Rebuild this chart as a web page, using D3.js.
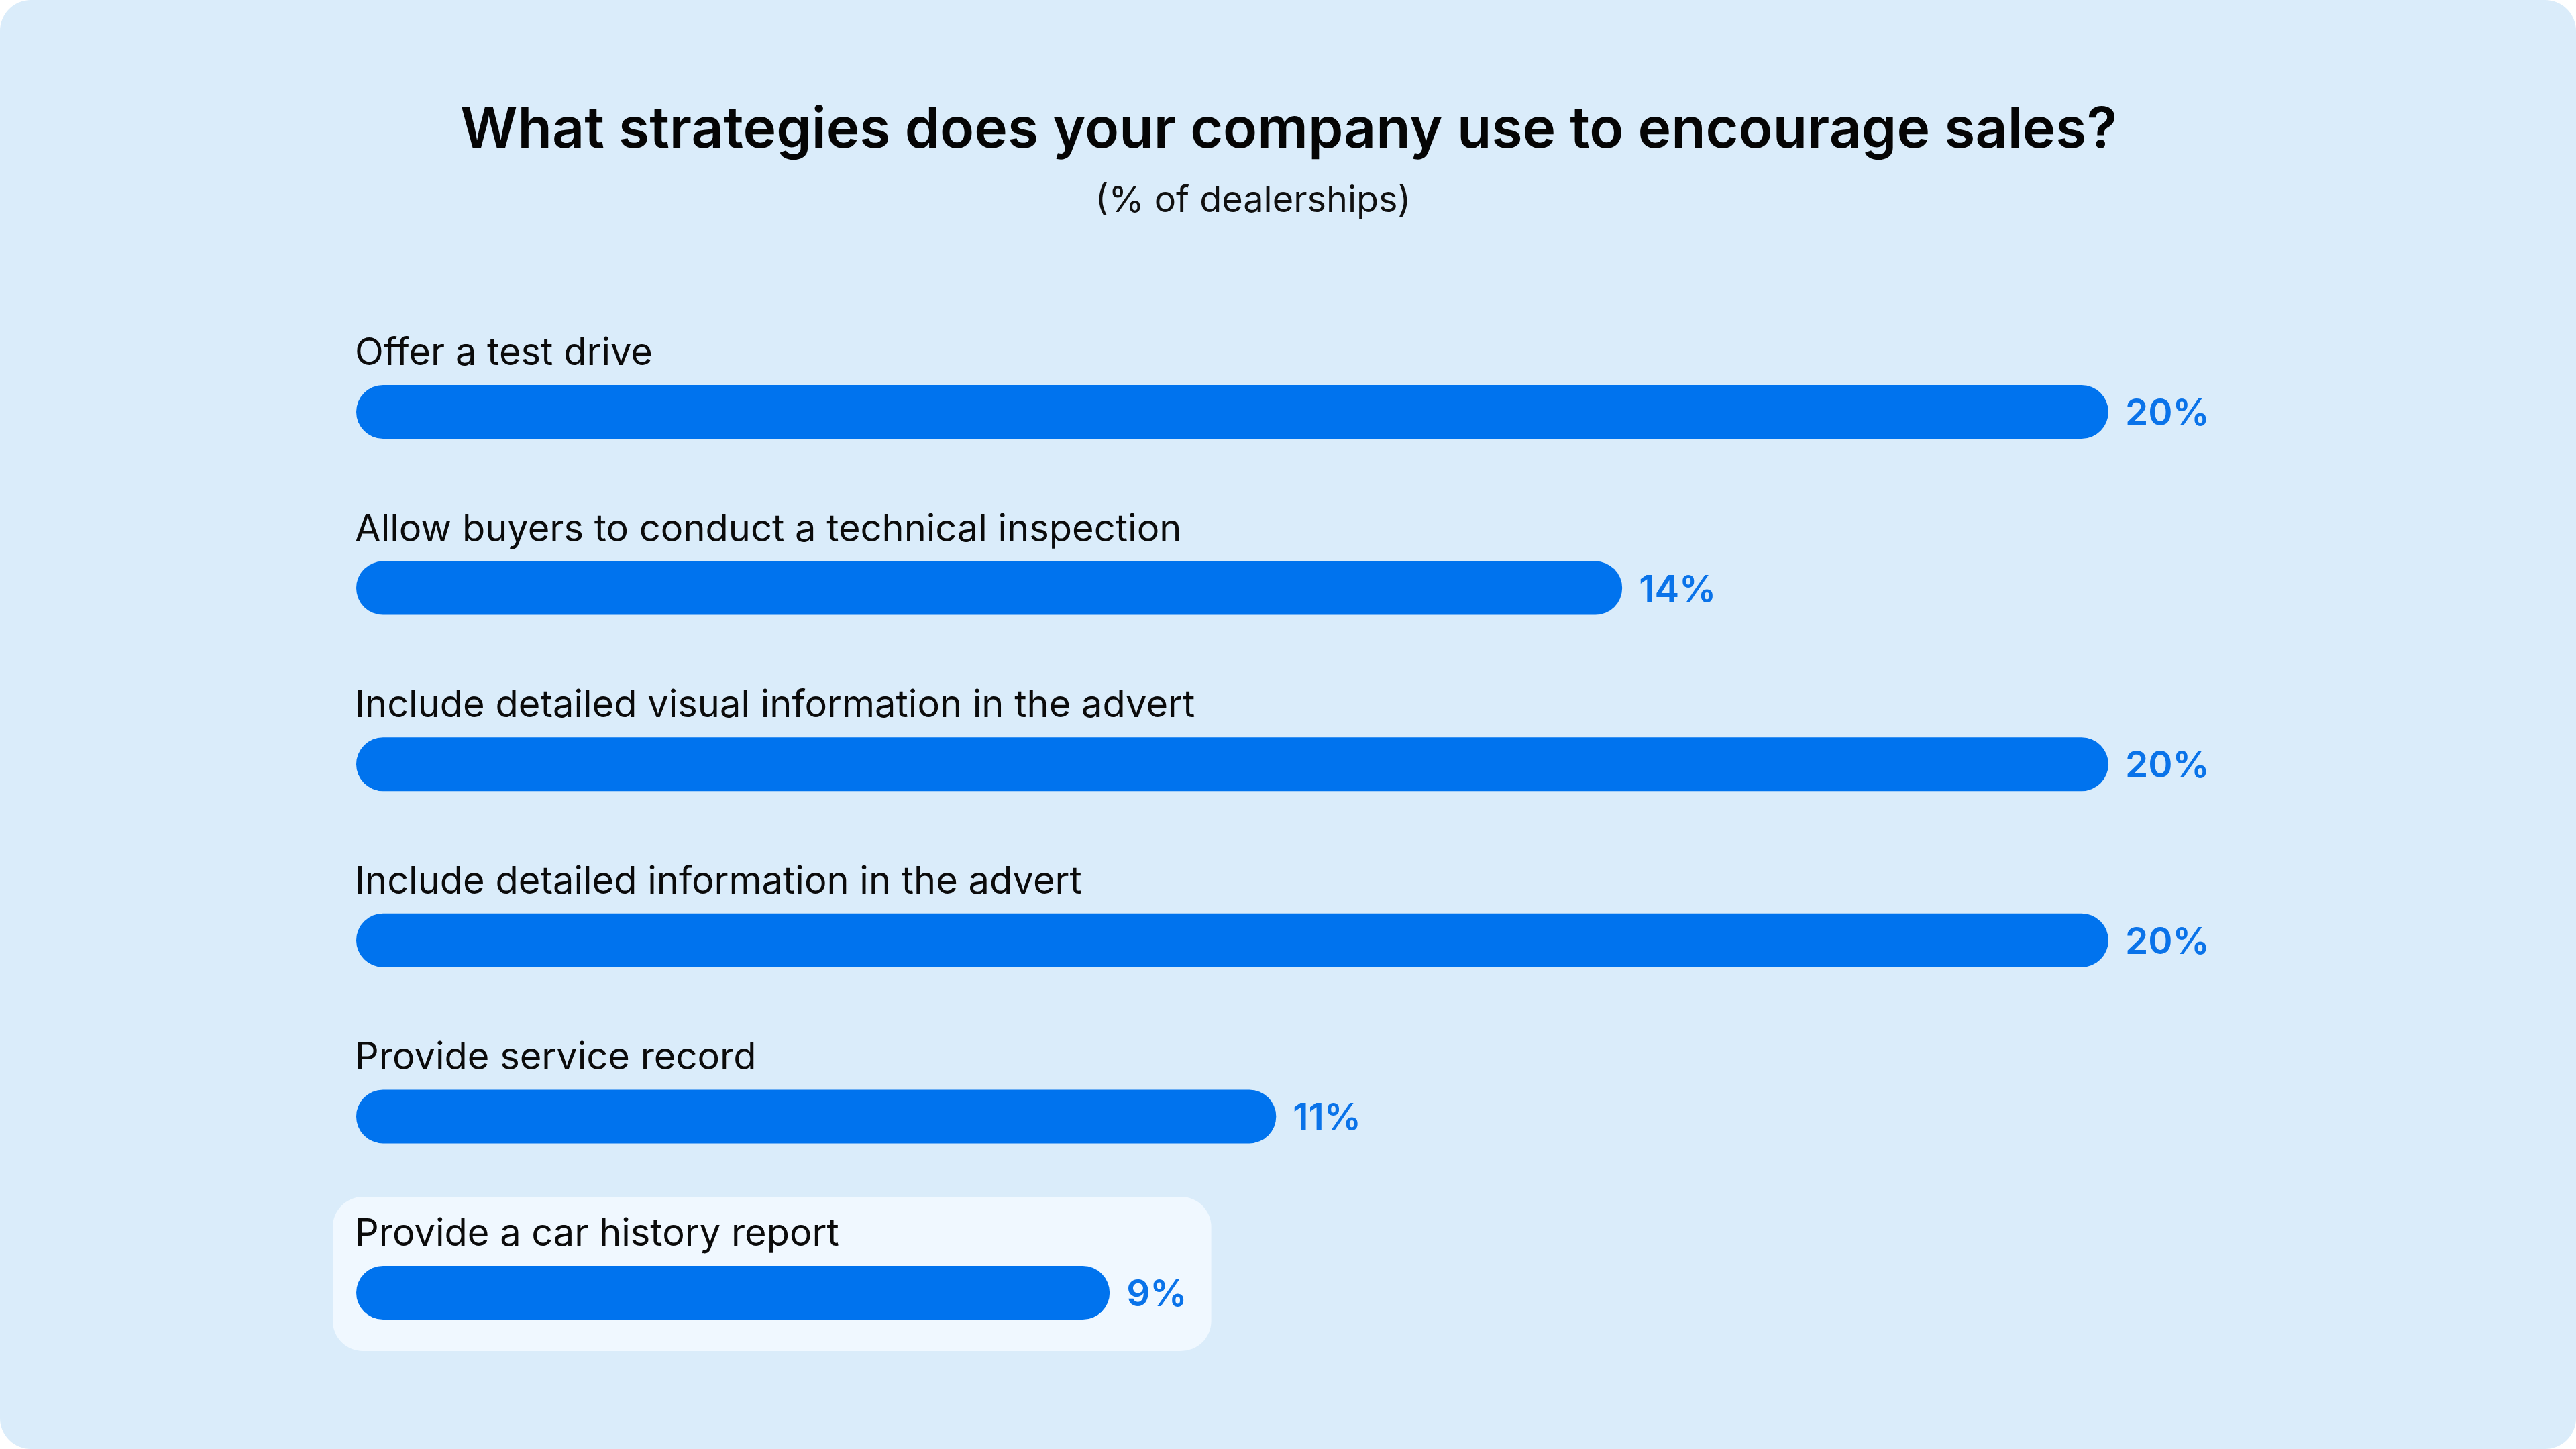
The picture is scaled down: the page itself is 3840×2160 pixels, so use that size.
<!DOCTYPE html>
<html>
<head>
<meta charset="utf-8">
<script src="https://cdn.jsdelivr.net/npm/d3@7/dist/d3.min.js"></script>
<style>
  html, body { margin: 0; padding: 0; background: #ffffff; }
  svg { display: block; }
  text { font-family: Inter, "Noto Sans", "DejaVu Sans", sans-serif; }
</style>
</head>
<body>
<svg id="chart" width="3840" height="2160"></svg>
<script>
// ---- data ----
const titleText = "What strategies does your company use to encourage sales?";
const subtitleText = "(% of dealerships)";
const categories = [
  "Offer a test drive",
  "Allow buyers to conduct a technical inspection",
  "Include detailed visual information in the advert",
  "Include detailed information in the advert",
  "Provide service record",
  "Provide a car history report"
];
const values = [20, 14.45, 20, 20, 10.5, 8.6];
const highlighted = ["Provide a car history report"];

// ---- layout ----
const W = 3840, H = 2160;
const barColor = "#0073EE";
const labelBlue = "#0A73E9";
const svg = d3.select("#chart");

svg.append("rect")
  .attr("x", 0).attr("y", 0).attr("width", W).attr("height", H)
  .attr("rx", 46).attr("ry", 46)
  .attr("fill", "#DAECFA");

svg.append("text")
  .attr("x", 1921).attr("y", 220)
  .attr("text-anchor", "middle")
  .attr("font-size", 84).attr("font-weight", 620)
  .attr("fill", "#050505")
  .text(titleText);

svg.append("text")
  .attr("x", 1868).attr("y", 316)
  .attr("text-anchor", "middle")
  .attr("font-size", 54).attr("font-weight", 400)
  .attr("fill", "#111111")
  .text(subtitleText);

const x = d3.scaleLinear().domain([0, 20]).range([531, 3143]);
const y = d3.scaleBand().domain(categories).range([482.7, 2058.3]).padding(0);
const barH = 80;
const fmt = v => Math.round(v) + "%";

const rows = svg.append("g").selectAll("g.row")
  .data(categories.map((c, i) => ({ cat: c, val: values[i] })))
  .join("g").attr("class", "row");

rows.each(function(d) {
  const g = d3.select(this);
  const cy = y(d.cat) + y.bandwidth() / 2;
  if (highlighted.includes(d.cat)) {
    g.append("rect").attr("class", "hi");
  }
  g.append("text")
    .attr("class", "cat")
    .attr("x", 529).attr("y", cy - 70)
    .attr("font-size", 56).attr("font-weight", 400)
    .attr("fill", "#0B0B0B")
    .text(d.cat);
  g.append("rect")
    .attr("x", x(0)).attr("y", cy - barH / 2)
    .attr("width", x(d.val) - x(0)).attr("height", barH)
    .attr("rx", barH / 2).attr("ry", barH / 2)
    .attr("fill", barColor);
  const vt = g.append("text")
    .attr("class", "val")
    .attr("x", x(d.val) + 25).attr("y", cy + 20)
    .attr("font-size", 55).attr("font-weight", 600)
    .attr("fill", labelBlue)
    .text(fmt(d.val));
  const hi = g.select("rect.hi");
  if (!hi.empty()) {
    const bb = vt.node().getBBox();
    hi.attr("x", x(0) - 35).attr("y", cy - 143)
      .attr("width", (bb.x + bb.width + 36) - (x(0) - 35))
      .attr("height", 230)
      .attr("rx", 45).attr("ry", 45)
      .attr("fill", "#F0F8FF");
  }
});
</script>
</body>
</html>
